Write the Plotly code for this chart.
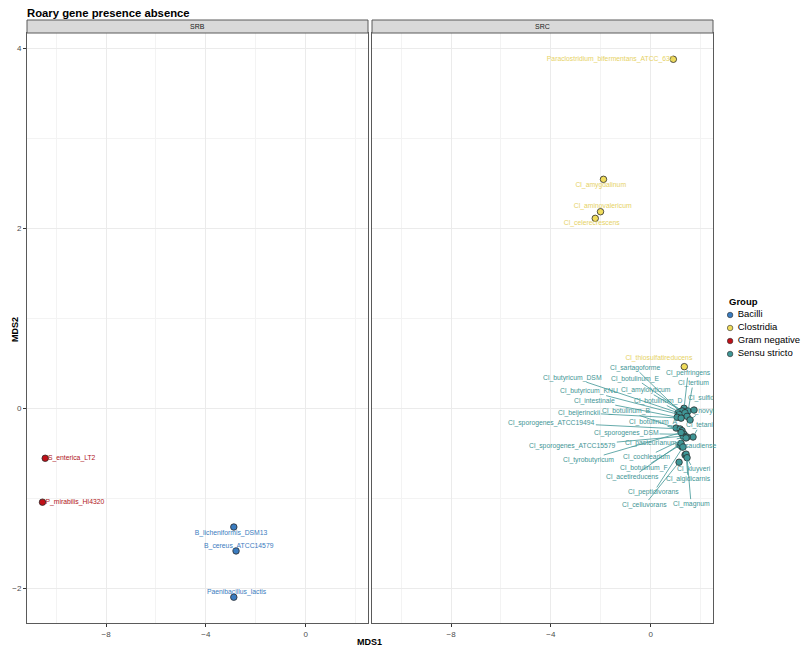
import plotly.graph_objects as go

# ---- data ----
groups = ["Bacilli", "Clostridia", "Gram negative", "Sensu stricto"]
colors = {"Bacilli": "#3A7CC0", "Clostridia": "#F0DC5C",
          "Gram negative": "#C01018", "Sensu stricto": "#3F9696"}
text_colors = {"Bacilli": "#3A7CC0", "Clostridia": "#E6D265",
               "Gram negative": "#B0141A", "Sensu stricto": "#3F9696"}

# SRB panel
gram_names = ["S_enterica_LT2", "P_mirabilis_HI4320"]
gram_x = [-10.44, -10.55]
gram_y = [-0.556, -1.044]
gram_lx = [-9.38, -9.25]
gram_ly = [-0.556, -1.05]

bac_names = ["B_licheniformis_DSM13", "B_cereus_ATCC14579", "Paenibacillus_lactis"]
bac_x = [-2.88, -2.79, -2.88]
bac_y = [-1.32, -1.586, -2.10]
bac_lx = [-2.99, -2.68, -2.77]
bac_ly = [-1.386, -1.53, -2.05]

# SRC panel
clo_names = ["Paraclostridium_bifermentans_ATCC_638", "Cl_amygdalinum",
             "Cl_aminovalericum", "Cl_celerecrescens", "Cl_thiosulfatireducens"]
clo_x = [0.91, -1.89, -2.01, -2.22, 1.35]
clo_y = [3.878, 2.544, 2.184, 2.11, 0.462]
clo_lx = [-1.62, -2.00, -1.92, -2.36, 0.33]
clo_ly = [3.88, 2.48, 2.24, 2.05, 0.56]

ss_names = ["Cl_perfringens", "Cl_tertium", "Cl_sartagoforme", "Cl_botulinum_E",
            "Cl_butyricum_DSM", "Cl_butyricum_KNU", "Cl_amylolyticum", "Cl_intestinale",
            "Cl_botulinum_D", "Cl_novyi", "Cl_beijerinckii", "Cl_botulinum_B",
            "Cl_sporogenes_ATCC19494", "Cl_botulinum_A", "Cl_tetani", "Cl_sporogenes_DSM",
            "Cl_sporogenes_ATCC15579", "Cl_pasteurianum", "Cl_saudiense", "Cl_cochlearium",
            "Cl_tyrobutyricum", "Cl_botulinum_F", "Cl_kluyveri", "Cl_acetireducens",
            "Cl_algidicarnis", "Cl_peptidivorans", "Cl_celluvorans", "Cl_magnum"]
ss_x = [1.34, 1.50, 1.18, 1.26, 1.10, 1.14, 1.38, 1.06, 1.46, 1.58, 1.22, 1.02,
        1.18, 1.26, 1.70, 1.34, 1.30, 1.46, 1.26, 1.42, 1.22, 1.18, 1.38, 1.22,
        1.42, 1.30, 1.14, 1.46]
ss_y = [0.00, -0.03, -0.04, -0.03, -0.05, -0.07, -0.05, -0.10, -0.09, -0.13, -0.11, -0.22,
        -0.23, -0.25, -0.32, -0.29, -0.31, -0.32, -0.43, -0.33, -0.27, -0.41, -0.52, -0.39,
        -0.51, -0.43, -0.60, -0.55]
ss_lx = [1.50, 1.70, -0.63, -0.61, -3.12, -2.48, -0.19, -2.26, 0.31, 2.04, -2.86, -0.97,
         -3.96, 0.09, 1.96, -0.97, -3.12, 0.01, 1.78, -0.17, -2.50, -0.27, 1.72, -0.71,
         1.50, 0.13, -0.23, 1.62]
ss_ly = [0.39, 0.28, 0.45, 0.33, 0.34, 0.19, 0.20, 0.08, 0.08, -0.03, -0.05, -0.03,
         -0.16, -0.15, -0.19, -0.28, -0.42, -0.39, -0.42, -0.54, -0.57, -0.66, -0.68, -0.76,
         -0.79, -0.93, -1.07, -1.06]

# label cut off by the panel edge
sulfi_name = "Cl_sulfidigenes"
sulfi_x, sulfi_y = 1.74, -0.02
sulfi_lx, sulfi_ly = 1.50, 0.11

FONT = "Liberation Sans"
LABEL_SIZE = 6.8
x_range = [-11.17, 2.5]
y_range = [-2.39, 4.17]

# page body adds an 8px offset, so the figure is 8px smaller each way
W, H = 802, 642
x_dom = [[19 / W, 360 / W], [364 / W, 705 / W]]
y_dom = [(H - 615.3) / H, (H - 25) / H]
strip_top = (H - 12) / H

fig = go.Figure()


def add_points(xs, ys, names, grp, panel):
    xa, ya = ("x", "y") if panel == 1 else ("x2", "y2")
    fig.add_trace(go.Scatter(
        x=xs, y=ys, mode="markers", name=grp, showlegend=False, xaxis=xa, yaxis=ya,
        marker=dict(size=6.5, color=colors[grp], line=dict(color="#2b2b2b", width=0.8)),
        text=names, hoverinfo="text"))


def add_labels(lx, ly, names, grp, panel, pos="middle center"):
    xa, ya = ("x", "y") if panel == 1 else ("x2", "y2")
    fig.add_trace(go.Scatter(
        x=lx, y=ly, mode="text", text=names, textposition=pos, showlegend=False,
        xaxis=xa, yaxis=ya, cliponaxis=True, hoverinfo="skip",
        textfont=dict(family=FONT, size=LABEL_SIZE, color=text_colors[grp])))


add_points(bac_x, bac_y, bac_names, "Bacilli", 1)
add_points(gram_x, gram_y, gram_names, "Gram negative", 1)
add_points(clo_x, clo_y, clo_names, "Clostridia", 2)
add_points(ss_x + [sulfi_x], ss_y + [sulfi_y], ss_names + [sulfi_name], "Sensu stricto", 2)

add_labels(bac_lx, bac_ly, bac_names, "Bacilli", 1)
add_labels(gram_lx, gram_ly, gram_names, "Gram negative", 1)
add_labels(clo_lx, clo_ly, clo_names, "Clostridia", 2)
add_labels([sulfi_lx], [sulfi_ly], [sulfi_name], "Sensu stricto", 2, pos="middle right")

# legend keys ("Group") drawn on a hidden axis pair
key_rows = list(range(len(groups)))
fig.add_trace(go.Scatter(
    x=[0.06] * len(groups), y=key_rows, mode="markers", xaxis="x3", yaxis="y3",
    showlegend=False, hoverinfo="skip", cliponaxis=False,
    marker=dict(size=5.5, color=[colors[g] for g in groups],
                line=dict(color="#2b2b2b", width=0.6))))
fig.add_trace(go.Scatter(
    x=[0.15] * len(groups), y=key_rows, mode="text", text=groups,
    textposition="middle right", xaxis="x3", yaxis="y3",
    showlegend=False, hoverinfo="skip", cliponaxis=False,
    textfont=dict(family=FONT, size=9.5, color="black")))

# repelled labels with segments for the Sensu stricto cluster
annotations = []
for name, px, py, tx, ty in zip(ss_names, ss_x, ss_y, ss_lx, ss_ly):
    annotations.append(dict(
        x=px, y=py, ax=tx, ay=ty, xref="x2", yref="y2", axref="x2", ayref="y2",
        text=name, showarrow=True, arrowhead=0, arrowwidth=0.8, standoff=3,
        arrowcolor=colors["Sensu stricto"], borderpad=0,
        font=dict(family=FONT, size=LABEL_SIZE, color=text_colors["Sensu stricto"])))

# facet strips
shapes = []
for (d0, d1), lab in zip(x_dom, ["SRB", "SRC"]):
    shapes.append(dict(type="rect", xref="paper", yref="paper", x0=d0, x1=d1,
                       y0=y_dom[1], y1=strip_top, fillcolor="#D9D9D9",
                       line=dict(color="#5a5a5a", width=1)))
    annotations.append(dict(xref="paper", yref="paper", x=(d0 + d1) / 2,
                            y=(y_dom[1] + strip_top) / 2, xanchor="center",
                            yanchor="middle", text=lab, showarrow=False,
                            font=dict(family=FONT, size=7, color="#1A1A1A")))

annotations.append(dict(xref="paper", yref="paper", x=361 / W, y=(H - 634) / H,
                        xanchor="center", yanchor="middle", text="<b>MDS1</b>",
                        showarrow=False, font=dict(family=FONT, size=9, color="black")))
annotations.append(dict(xref="paper", yref="paper", x=0, y=(H - 322) / H,
                        xanchor="left", yanchor="middle", textangle=-90,
                        text="<b>MDS2</b>", showarrow=False,
                        font=dict(family=FONT, size=9, color="black")))
annotations.append(dict(xref="paper", yref="paper", x=719 / W, y=(H - 293.7) / H,
                        xanchor="left", yanchor="middle", text="<b>Group</b>",
                        showarrow=False, font=dict(family=FONT, size=9.5, color="black")))

axis_common = dict(
    showline=True, mirror=True, linecolor="#5a5a5a", linewidth=1,
    showgrid=True, gridcolor="#EBEBEB", gridwidth=1, zeroline=False,
    tickfont=dict(family=FONT, size=8, color="#4D4D4D"))
tick_style = dict(ticks="outside", ticklen=3, tickcolor="#333333", tickwidth=1)
minor_x = dict(dtick=2, showgrid=True, gridcolor="#F3F3F3", gridwidth=0.6)
minor_y = dict(dtick=1, showgrid=True, gridcolor="#F3F3F3", gridwidth=0.6)

fig.update_layout(
    width=W, height=H,
    margin=dict(l=0, r=0, t=0, b=0, autoexpand=False),
    paper_bgcolor="white", plot_bgcolor="white",
    font=dict(family=FONT, size=8, color="black"),
    showlegend=False,
    title=dict(text="<b>Roary gene presence absence</b>", x=19 / W, xanchor="left",
               y=1 - 1.5 / H, yanchor="top", pad=dict(t=0, l=0),
               font=dict(family=FONT, size=11.3, color="black")),
    xaxis=dict(domain=x_dom[0], range=x_range, tick0=0, dtick=4, minor=minor_x,
               **axis_common, **tick_style),
    xaxis2=dict(domain=x_dom[1], range=x_range, tick0=0, dtick=4, anchor="y2",
                minor=minor_x, **axis_common, **tick_style),
    yaxis=dict(domain=y_dom, range=y_range, tick0=0, dtick=2, minor=minor_y,
               **axis_common, **tick_style),
    yaxis2=dict(domain=y_dom, range=y_range, tick0=0, dtick=2, anchor="x2",
                matches="y", showticklabels=False, minor=minor_y, **axis_common),
    xaxis3=dict(domain=[717 / W, 1.0], range=[0, 1], visible=False, anchor="y3"),
    yaxis3=dict(domain=[(H - 352.5) / H, (H - 300.5) / H], range=[3.5, -0.5],
                visible=False, anchor="x3"),
    annotations=annotations,
    shapes=shapes,
)

fig.write_html("out.html")
